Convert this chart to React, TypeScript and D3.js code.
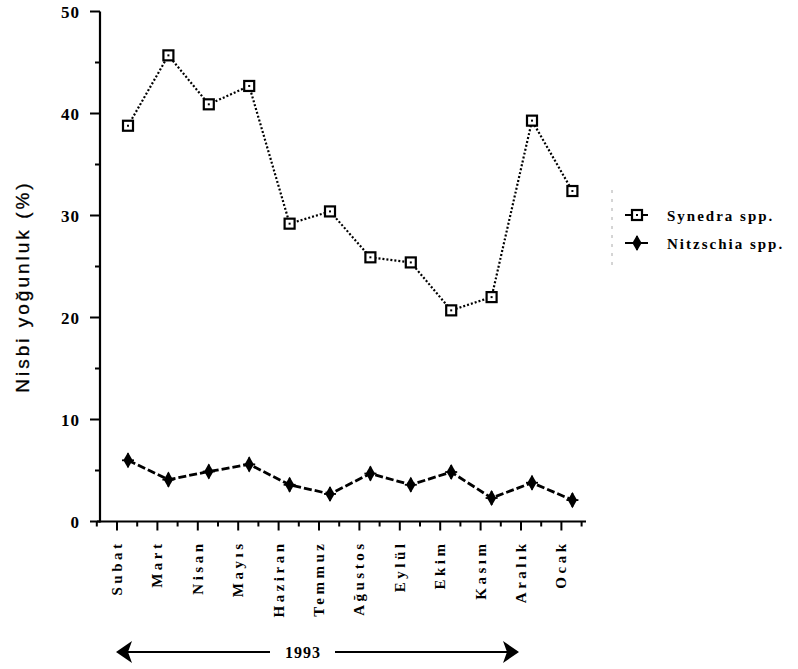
import React from "react";
import * as d3 from "d3";

const months = ["Subat", "Mart", "Nisan", "Mayıs", "Haziran", "Temmuz", "Ağustos", "Eylül", "Ekim", "Kasım", "Aralık", "Ocak"];
const synedra = [38.8, 45.7, 40.9, 42.7, 29.2, 30.4, 25.9, 25.4, 20.7, 22.0, 39.3, 32.4];
const nitzschia = [6.0, 4.1, 4.9, 5.6, 3.6, 2.7, 4.7, 3.6, 4.85, 2.3, 3.8, 2.1];
const yTicks = [0, 10, 20, 30, 40, 50];
const yMinor = [5, 15, 25, 35, 45];
const seriesNames = ["Synedra spp.", "Nitzschia spp."];
const yearLabel = "1993";
const yTitle = "Nisbi yoğunluk (%)";

const W = 798, H = 669;
const serif = "'Liberation Serif', 'DejaVu Serif', serif";
const sans = "'Liberation Sans', Arial, sans-serif";

export default function App() {
  const x = d3.scalePoint<string>().domain(months).range([128, 572.4]);
  const y = d3.scaleLinear().domain([0, 50]).range([521.5, 11.5]);
  const labelOffset = -11;
  const step = x.step();
  const line = d3.line<number>().x((_, i) => x(months[i])!).y((d) => y(d));
  const diamond = d3.symbol().type(d3.symbolDiamond).size(75)()!;

  const SquareMarker = ({ cx, cy }: { cx: number; cy: number }) => (
    <g transform={`translate(${cx},${cy})`}>
      <rect x={-5} y={-5} width={10} height={10} fill="#fff" stroke="#000" strokeWidth={2.2} />
      <rect x={-1} y={-1} width={2} height={2} fill="#000" />
    </g>
  );
  const StarMarker = ({ cx, cy }: { cx: number; cy: number }) => (
    <g transform={`translate(${cx},${cy})`}>
      <path d={diamond} fill="#000" />
      <line x1={0} x2={0} y1={-7} y2={7} stroke="#000" strokeWidth={1.8} />
      <line x1={-6} x2={6} y1={0} y2={0} stroke="#000" strokeWidth={1.8} />
    </g>
  );

  const tickXs = months.map((m) => x(m)! + labelOffset);
  const minorXs = [...tickXs.map((t) => t - step / 2), tickXs[tickXs.length - 1] + step / 2];

  return (
    <svg width={W} height={H} style={{ position: "absolute", left: 0, top: 0, background: "#fff" }}>
      <rect width={W} height={H} fill="#fff" />
      {/* Y axis */}
      <line x1={100} x2={100} y1={y(50)} y2={y(0) + 1} stroke="#000" strokeWidth={2.2} />
      {yTicks.map((t) => (
        <g key={t}>
          <line x1={90} x2={100} y1={y(t)} y2={y(t)} stroke="#000" strokeWidth={2} />
          <text x={80} y={y(t) + 6} textAnchor="end" fontFamily={serif} fontWeight="bold" fontSize={17} letterSpacing={1}>
            {t}
          </text>
        </g>
      ))}
      {yMinor.map((t) => (
        <line key={t} x1={95} x2={100} y1={y(t)} y2={y(t)} stroke="#000" strokeWidth={2} />
      ))}
      <text
        transform={`translate(29,${(y(0) + y(50)) / 2 + 20}) rotate(-90)`}
        textAnchor="middle"
        fontFamily={sans}
        fontSize={19}
        letterSpacing={3}
        stroke="#000"
        strokeWidth={0.3}
      >
        {yTitle}
      </text>

      {/* X axis */}
      <line x1={97} x2={586} y1={y(0)} y2={y(0)} stroke="#000" strokeWidth={2.2} />
      {tickXs.map((tx, i) => (
        <line key={"M" + i} x1={tx} x2={tx} y1={y(0)} y2={y(0) + 9} stroke="#000" strokeWidth={2} />
      ))}
      {minorXs.map((tx, i) => (
        <line key={"m" + i} x1={tx} x2={tx} y1={y(0)} y2={y(0) + 5} stroke="#000" strokeWidth={2} />
      ))}
      {months.map((m, i) => (
        <text
          key={m}
          transform={`translate(${tickXs[i] + 5},${y(0) + 19}) rotate(-90)`}
          textAnchor="end"
          fontFamily={serif}
          fontWeight="bold"
          fontSize={15}
          letterSpacing={3.5}
        >
          {m}
        </text>
      ))}

      {/* Series */}
      <path d={line(synedra)!} fill="none" stroke="#000" strokeWidth={2.2} strokeDasharray="2,2" />
      <path d={line(nitzschia)!} fill="none" stroke="#000" strokeWidth={2.8} strokeDasharray="8,3" />
      {synedra.map((v, i) => (
        <SquareMarker key={"s" + i} cx={x(months[i])!} cy={y(v)} />
      ))}
      {nitzschia.map((v, i) => (
        <StarMarker key={"n" + i} cx={x(months[i])!} cy={y(v)} />
      ))}

      {/* Legend */}
      <line x1={612} x2={612} y1={190} y2={270} stroke="#aaa" strokeWidth={1} strokeDasharray="3,6" />
      <line x1={625} x2={648} y1={215} y2={215} stroke="#000" strokeWidth={2} />
      <SquareMarker cx={637} cy={215} />
      <text x={667} y={221} fontFamily={serif} fontWeight="bold" fontSize={15} letterSpacing={2}>
        {seriesNames[0]}
      </text>
      <line x1={625} x2={648} y1={243} y2={243} stroke="#000" strokeWidth={2} />
      <StarMarker cx={637} cy={243} />
      <text x={667} y={249} fontFamily={serif} fontWeight="bold" fontSize={15} letterSpacing={2}>
        {seriesNames[1]}
      </text>

      {/* Year arrow */}
      <line x1={122} x2={270} y1={652} y2={652} stroke="#000" strokeWidth={2} />
      <line x1={335} x2={512} y1={652} y2={652} stroke="#000" strokeWidth={2} />
      <path d="M116,652 L132,641 L128,652 L132,663 Z" fill="#000" />
      <path d="M519,652 L503,641 L507,652 L503,663 Z" fill="#000" />
      <text x={303} y={658} textAnchor="middle" fontFamily={serif} fontWeight="bold" fontSize={16} letterSpacing={1}>
        {yearLabel}
      </text>
    </svg>
  );
}
